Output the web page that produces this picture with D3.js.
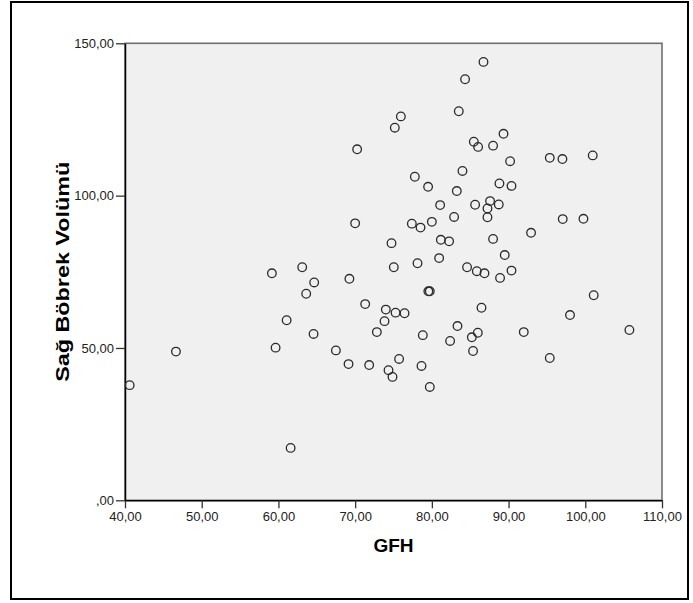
<!DOCTYPE html>
<html>
<head>
<meta charset="utf-8">
<script src="https://cdn.jsdelivr.net/npm/d3@7"></script>
<style>
  html, body { margin: 0; padding: 0; background: #ffffff; }
  svg { display: block; }
  text { font-family: "Liberation Sans", Arial, sans-serif; }
</style>
</head>
<body>
<svg id="chart" width="693" height="603"></svg>
<script>
// GFH (x) values
const gfh = [
  75.96, 75.17, 70.26, 70.00, 74.74, 75.04, 63.10, 59.15, 64.66, 69.25,
  86.73, 84.33, 83.51, 89.34, 85.47, 86.03, 87.98, 90.20, 95.37, 97.02,
  100.97, 83.99, 77.78, 79.51, 83.25, 88.81, 90.38, 81.08, 85.64, 87.59,
  88.72, 87.25, 82.90, 87.25, 77.39, 78.52, 80.00, 97.06, 99.76, 92.93,
  81.17, 82.25, 87.98, 80.95, 89.50, 78.13, 84.59, 85.86, 86.86, 90.38,
  88.89, 63.62, 71.31, 74.00, 75.27, 76.44, 73.83, 61.07, 72.83, 64.58,
  59.63, 67.49, 69.14, 71.83, 75.73, 74.35, 74.87, 40.61, 46.64, 61.59,
  79.54, 79.73, 101.10, 86.47, 98.01, 83.34, 78.82, 82.38, 85.21, 85.99,
  85.37, 91.98, 105.75, 95.37, 78.65, 79.73
];
// Sağ Böbrek Volümü (y) values
const volume = [
  126.0, 122.3, 115.2, 90.9, 84.4, 76.5, 76.5, 74.5, 71.5, 72.7,
  143.9, 138.2, 127.7, 120.3, 117.7, 116.0, 116.4, 111.3, 112.4, 112.0,
  113.2, 108.1, 106.2, 102.9, 101.5, 104.0, 103.2, 96.9, 97.0, 98.2,
  97.1, 95.8, 93.0, 92.9, 90.8, 89.5, 91.4, 92.3, 92.4, 87.8,
  85.5, 85.0, 85.8, 79.5, 80.5, 77.8, 76.5, 75.2, 74.5, 75.4,
  73.0, 67.8, 64.4, 62.6, 61.6, 61.4, 58.8, 59.1, 55.2, 54.6,
  50.1, 49.2, 44.7, 44.4, 46.4, 42.7, 40.5, 37.8, 48.8, 17.2,
  68.6, 68.6, 67.3, 63.2, 60.8, 57.2, 54.2, 52.3, 53.5, 55.0,
  49.0, 55.2, 55.9, 46.7, 44.1, 37.2
];

const xTicks = [40, 50, 60, 70, 80, 90, 100, 110];
const yTicks = [0, 50, 100, 150];
const xTitle = "GFH";
const yTitle = "Sağ Böbrek Volümü";

const svg = d3.select("#chart");

// outer frame
svg.append("rect")
  .attr("x", 11).attr("y", 2)
  .attr("width", 677).attr("height", 597)
  .attr("fill", "#ffffff")
  .attr("stroke", "#000000").attr("stroke-width", 2);

const plotL = 125, plotR = 662, plotT = 43.3, plotB = 500.3;

const x = d3.scaleLinear().domain([40, 110]).range([plotL, plotR]);
const y = d3.scaleLinear().domain([0, 150]).range([plotB, plotT]);

// plot background and frame
svg.append("rect")
  .attr("x", plotL).attr("y", plotT)
  .attr("width", plotR - plotL).attr("height", plotB - plotT)
  .attr("fill", "#f0f0f0")
  .attr("stroke", "#6e6e6e").attr("stroke-width", 1.6);

const fmt = v => d3.format(".2f")(v).replace(".", ",").replace(/^0,/, ",");

// x axis
const xAxis = svg.append("g")
  .attr("transform", `translate(0,${plotB})`)
  .call(d3.axisBottom(x).tickValues(xTicks).tickFormat(fmt).tickSizeInner(8).tickSizeOuter(0).tickPadding(3));
xAxis.select(".domain").attr("stroke", "#000").attr("stroke-width", 1.5);
xAxis.selectAll(".tick line").attr("stroke", "#333").attr("stroke-width", 1.3);
xAxis.selectAll(".tick text")
  .attr("font-family", "'Liberation Sans', Arial, sans-serif")
  .attr("font-size", 13).attr("fill", "#222");

// y axis
const yAxis = svg.append("g")
  .attr("transform", `translate(${plotL},0)`)
  .call(d3.axisLeft(y).tickValues(yTicks).tickFormat(fmt).tickSizeInner(9).tickSizeOuter(0).tickPadding(2));
yAxis.select(".domain").attr("stroke", "#000").attr("stroke-width", 1.5);
yAxis.selectAll(".tick line").attr("stroke", "#333").attr("stroke-width", 1.3);
yAxis.selectAll(".tick text")
  .attr("font-family", "'Liberation Sans', Arial, sans-serif")
  .attr("font-size", 13).attr("fill", "#222");

// points
const pts = gfh.map((g, i) => ({ g, v: volume[i] }));
svg.append("g")
  .selectAll("circle")
  .data(pts)
  .join("circle")
  .attr("cx", d => x(d.g))
  .attr("cy", d => y(d.v))
  .attr("r", 4.3)
  .attr("fill", "none")
  .attr("stroke", "#2a2a2a")
  .attr("stroke-width", 1.3);

// axis titles
svg.append("text")
  .attr("x", (plotL + plotR) / 2).attr("y", 552)
  .attr("text-anchor", "middle")
  .attr("font-weight", "bold").attr("font-size", 19)
  .attr("fill", "#000")
  .text(xTitle);

svg.append("text")
  .attr("transform", `translate(69,${(plotT + plotB) / 2}) rotate(-90)`)
  .attr("text-anchor", "middle")
  .attr("font-weight", "bold").attr("font-size", 19)
  .attr("textLength", 220).attr("lengthAdjust", "spacingAndGlyphs")
  .attr("fill", "#000")
  .text(yTitle);
</script>
</body>
</html>
